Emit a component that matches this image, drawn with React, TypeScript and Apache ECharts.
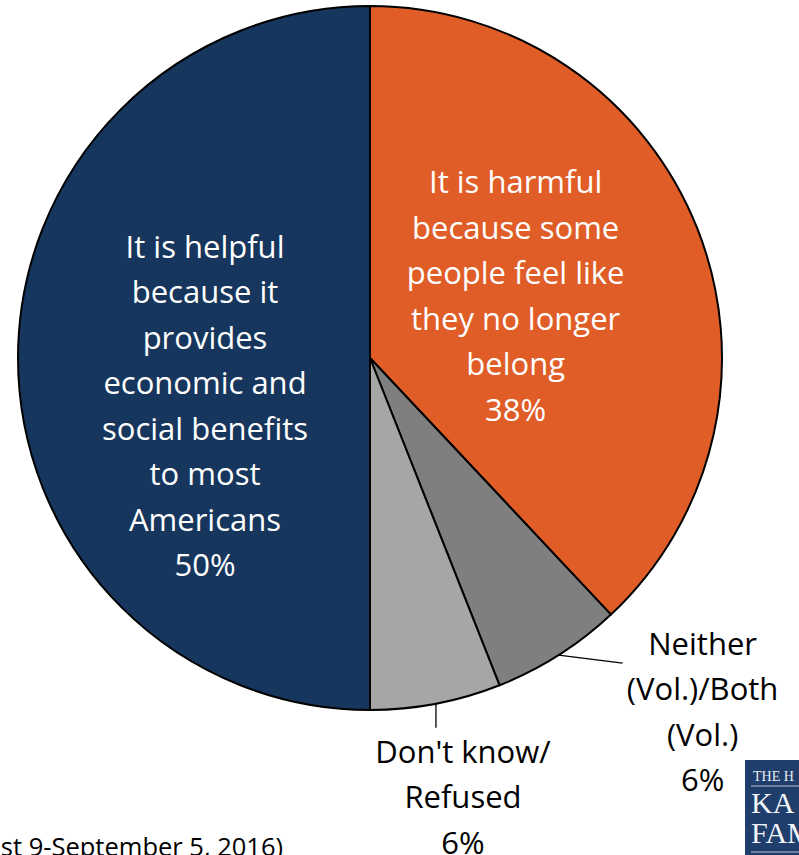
import React, { useEffect, useRef } from "react";
import * as echarts from "echarts";

const categories = [
  "It is harmful\nbecause some\npeople feel like\nthey no longer\nbelong",
  "Neither\n(Vol.)/Both\n(Vol.)",
  "Don't know/\nRefused",
  "It is helpful\nbecause it\nprovides\neconomic and\nsocial benefits\nto most\nAmericans",
];
const values = [38, 6, 6, 50];
const sliceColors = ["#E05D28", "#7F7F7F", "#A6A6A6", "#17365D"];
const sourceNote = "st 9-September 5, 2016)";

const CX = 370;
const CY = 358;
const R = 352;
const FONT = "'Open Sans', sans-serif";

// label placement relative to slice geometry
const insideShift: Record<number, [number, number]> = { 0: [-18, 2], 3: [11, 47] };

export default function App() {
  const ref = useRef<HTMLDivElement>(null);
  useEffect(() => {
    document.body.style.margin = "0";
    const chart = echarts.init(ref.current!, undefined, { renderer: "svg" });
    const total = values.reduce((a, b) => a + b, 0);
    const mids: number[] = [];
    let acc = 0;
    values.forEach((v) => {
      mids.push(((acc + v / 2) / total) * Math.PI * 2);
      acc += v;
    });
    const pt = (i: number, r: number): [number, number] => [
      CX + r * Math.sin(mids[i]),
      CY - r * Math.cos(mids[i]),
    ];

    const data = categories.map((name, i) => {
      const inside = i === 0 || i === 3;
      return {
        name,
        value: values[i],
        itemStyle: { color: sliceColors[i] },
        label: {
          position: inside ? "inside" : "outside",
          color: inside ? "#ffffff" : "#000000",
        },
        labelLine: { show: !inside },
      };
    });

    const serif = "'Liberation Serif', serif";
    chart.setOption({
      animation: false,
      graphic: [
        {
          type: "text",
          x: 283,
          y: 846,
          style: {
            text: sourceNote,
            font: `25.5px ${FONT}`,
            fill: "#000",
            align: "right",
            verticalAlign: "middle",
          },
        },
        { type: "rect", shape: { x: 745, y: 760, width: 60, height: 95 }, style: { fill: "#1F3E6C" } },
        {
          type: "text",
          x: 753,
          y: 776,
          style: { text: "THE H", font: `14px ${serif}`, fill: "#E8ECF3", verticalAlign: "middle" },
        },
        { type: "line", shape: { x1: 751, y1: 786, x2: 799, y2: 786 }, style: { stroke: "#B9C3D3", lineWidth: 1.2 } },
        {
          type: "text",
          x: 751,
          y: 802,
          style: { text: "KA", font: `30px ${serif}`, fill: "#F2F4F8", verticalAlign: "middle" },
        },
        {
          type: "text",
          x: 751,
          y: 832,
          style: { text: "FAM", font: `30px ${serif}`, fill: "#F2F4F8", verticalAlign: "middle" },
        },
        { type: "line", shape: { x1: 751, y1: 852, x2: 799, y2: 852 }, style: { stroke: "#B9C3D3", lineWidth: 1.2 } },
      ],
      series: [
        {
          type: "pie",
          center: [CX, CY],
          radius: R,
          startAngle: 90,
          clockwise: true,
          avoidLabelOverlap: false,
          itemStyle: { borderColor: "#000", borderWidth: 2 },
          emphasis: { disabled: true },
          label: {
            formatter: (p: any) => `${p.name}\n${p.value}%`,
            fontFamily: FONT,
            fontSize: 31,
            lineHeight: 45.5,
            align: "center",
          },
          labelLine: { lineStyle: { color: "#000", width: 1.3 } },
          labelLayout: (params: any) => {
            const i = params.dataIndex;
            if (i === 0 || i === 3) {
              const [x, y] = pt(i, R / 2);
              const s = insideShift[i];
              return { x: x + s[0], y: y + s[1], align: "center", verticalAlign: "middle" };
            }
            const p0 = pt(i, R);
            if (i === 1) {
              const end: [number, number] = [p0[0] + 64, p0[1] + 8];
              return {
                x: p0[0] + 144,
                y: p0[1] - 35,
                align: "center",
                verticalAlign: "top",
                labelLinePoints: [p0, [p0[0] + 32, p0[1] + 4], end],
              };
            }
            const end: [number, number] = [p0[0], p0[1] + 24];
            return {
              x: p0[0] + 27,
              y: p0[1] + 24,
              align: "center",
              verticalAlign: "top",
              labelLinePoints: [p0, [p0[0], p0[1] + 12], end],
            };
          },
          data,
        },
      ],
    });
    return () => chart.dispose();
  }, []);
  return <div ref={ref} style={{ position: "absolute", left: 0, top: 0, width: 799, height: 855 }} />;
}
